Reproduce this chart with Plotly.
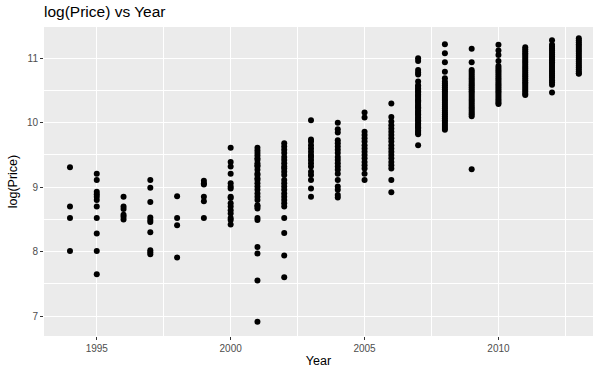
import plotly.graph_objects as go

# log(Price) observations grouped by model year
years = list(range(1994, 2014))

p1994 = [9.31, 8.70, 8.52, 8.01]
p1995 = [9.21, 9.11, 8.93, 8.89, 8.85, 8.80, 8.70, 8.52, 8.28, 8.01, 7.65]
p1996 = [8.85, 8.70, 8.66, 8.57, 8.54, 8.50]
p1997 = [9.11, 8.99, 8.77, 8.53, 8.49, 8.46, 8.30, 8.02, 7.99, 7.96]
p1998 = [8.86, 8.52, 8.41, 7.91]
p1999 = [9.10, 9.06, 9.04, 8.85, 8.78, 8.52]
p2000 = [9.61, 9.39, 9.32, 9.21, 9.06, 9.01, 8.98, 8.85, 8.83, 8.75, 8.70,
         8.64, 8.59, 8.52, 8.49, 8.42]
p2001 = [9.61, 9.57, 9.53, 9.49, 9.45, 9.42, 9.37, 9.34, 9.32, 9.27, 9.21,
         9.19, 9.14, 9.11, 9.06, 9.01, 8.96, 8.90, 8.85, 8.80, 8.72, 8.70,
         8.67, 8.52, 8.49, 8.07, 7.97, 7.55, 6.91]
p2002 = [9.68, 9.63, 9.58, 9.53, 9.47, 9.42, 9.37, 9.32, 9.29, 9.24, 9.19,
         9.11, 9.06, 9.01, 8.96, 8.90, 8.85, 8.80, 8.75, 8.70, 8.52, 8.29,
         7.94, 7.60]
p2003 = [10.04, 9.74, 9.71, 9.65, 9.60, 9.55, 9.50, 9.47, 9.42, 9.37, 9.32,
         9.24, 9.19, 9.11, 8.98, 8.85]
p2004 = [10.00, 9.90, 9.85, 9.73, 9.68, 9.63, 9.58, 9.53, 9.47, 9.42, 9.37,
         9.32, 9.27, 9.21, 9.11, 9.01, 8.96, 8.88, 8.84]
p2005 = [10.16, 10.08, 9.86, 9.81, 9.76, 9.71, 9.65, 9.60, 9.55, 9.50, 9.45,
         9.39, 9.34, 9.29, 9.21, 9.11]
p2006 = [10.30, 10.09, 10.02, 9.96, 9.91, 9.86, 9.81, 9.76, 9.71, 9.65, 9.60,
         9.55, 9.50, 9.45, 9.39, 9.34, 9.29, 9.11, 8.92]
p2007 = [11.00, 10.96, 10.82, 10.78, 10.75, 10.64, 10.58, 10.56, 10.53, 10.51,
         10.49, 10.47, 10.44, 10.42, 10.40, 10.37, 10.35, 10.33, 10.31, 10.28,
         10.26, 10.24, 10.22, 10.19, 10.17, 10.15, 10.13, 10.11, 10.08, 10.06,
         10.04, 10.02, 9.99, 9.97, 9.95, 9.93, 9.91, 9.88, 9.86, 9.84, 9.82,
         9.65]
p2008 = [11.22, 11.08, 10.94, 10.79, 10.69, 10.64, 10.61, 10.58, 10.55, 10.52,
         10.49, 10.46, 10.43, 10.40, 10.37, 10.34, 10.31, 10.28, 10.25, 10.22,
         10.19, 10.16, 10.13, 10.10, 10.07, 10.04, 10.01, 9.98, 9.95, 9.92,
         9.89]
p2009 = [11.15, 10.94, 10.82, 10.79, 10.76, 10.73, 10.70, 10.67, 10.64, 10.61,
         10.58, 10.55, 10.52, 10.49, 10.46, 10.43, 10.40, 10.37, 10.34, 10.31,
         10.28, 10.25, 10.22, 10.19, 10.16, 10.13, 10.10, 9.28]
p2010 = [11.21, 11.12, 11.05, 10.96, 10.88, 10.85, 10.82, 10.79, 10.76, 10.73,
         10.70, 10.67, 10.64, 10.61, 10.58, 10.55, 10.52, 10.49, 10.46, 10.43,
         10.40, 10.37, 10.34, 10.31, 10.29]
p2011 = [11.17, 11.14, 11.11, 11.08, 11.05, 11.02, 10.99, 10.96, 10.93, 10.90,
         10.87, 10.84, 10.81, 10.78, 10.75, 10.72, 10.69, 10.66, 10.63, 10.60,
         10.57, 10.54, 10.51, 10.48, 10.45, 10.43]
p2012 = [11.28, 11.21, 11.18, 11.15, 11.12, 11.09, 11.06, 11.03, 11.00, 10.97,
         10.94, 10.91, 10.88, 10.85, 10.82, 10.79, 10.76, 10.73, 10.70, 10.66,
         10.63, 10.59, 10.47]
p2013 = [11.31, 11.28, 11.25, 11.22, 11.19, 11.16, 11.13, 11.10, 11.07, 11.04,
         11.01, 10.98, 10.95, 10.92, 10.89, 10.86, 10.83, 10.80, 10.77, 10.76]

prices_by_year = [p1994, p1995, p1996, p1997, p1998, p1999, p2000, p2001,
                  p2002, p2003, p2004, p2005, p2006, p2007, p2008, p2009,
                  p2010, p2011, p2012, p2013]

x_tick_vals = [1995, 2000, 2005, 2010]
y_tick_vals = [7, 8, 9, 10, 11]

xs, ys = [], []
for yr, vals in zip(years, prices_by_year):
    xs.extend([yr] * len(vals))
    ys.extend(vals)

FONT = "Liberation Sans, Arial, Helvetica, sans-serif"

fig = go.Figure(
    go.Scatter(
        x=xs, y=ys, mode="markers",
        marker=dict(color="black", size=6, line=dict(width=0)),
        hoverinfo="x+y",
    )
)

axis_common = dict(
    showgrid=True, gridcolor="white", gridwidth=1.1,
    zeroline=False, showline=False,
    ticks="outside", ticklen=3, tickwidth=1, tickcolor="#333333",
    tickfont=dict(family=FONT, size=10, color="#4D4D4D"),
)

fig.update_layout(
    width=595, height=372,
    margin=dict(l=44, r=2, t=27, b=36),
    paper_bgcolor="white", plot_bgcolor="#EBEBEB",
    showlegend=False,
    font=dict(family=FONT, color="black"),
    title=dict(
        text="log(Price) vs Year",
        font=dict(family=FONT, size=15.5, color="black"),
        xref="paper", x=0, xanchor="left",
        yref="container", y=1 - 12 / 372, yanchor="middle",
    ),
    xaxis=dict(
        **axis_common,
        range=[1993.03, 2013.53],
        tickvals=x_tick_vals,
        ticktext=[str(v) for v in x_tick_vals],
        minor=dict(tickvals=[1997.5, 2002.5, 2007.5, 2012.5],
                   showgrid=True, gridcolor="white", gridwidth=0.5),
        title=dict(text="Year", font=dict(family=FONT, size=12.5), standoff=3),
    ),
    yaxis=dict(
        **axis_common,
        range=[6.69, 11.486],
        tickvals=y_tick_vals,
        ticktext=[str(v) for v in y_tick_vals],
        minor=dict(tickvals=[7.5, 8.5, 9.5, 10.5],
                   showgrid=True, gridcolor="white", gridwidth=0.5),
        title=dict(text="log(Price)", font=dict(family=FONT, size=12.5), standoff=6),
    ),
)

fig.write_html("out.html")
